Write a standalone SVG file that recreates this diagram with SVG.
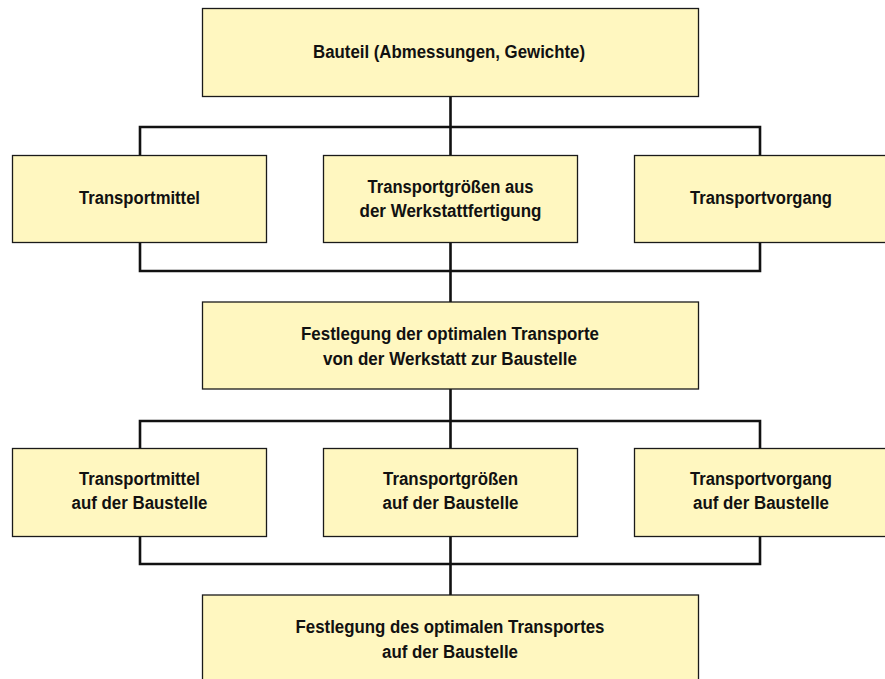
<svg xmlns="http://www.w3.org/2000/svg" width="885" height="679" viewBox="0 0 885 679">
<style>
.box{fill:#fff7c0;stroke:#1a1a1a;stroke-width:1.3}
.sh{fill:none;stroke:#8a8a80;stroke-width:1.5}
.lbl{font-family:"Liberation Sans",Arial,sans-serif;font-weight:bold;font-size:18px;fill:#111;text-anchor:middle}
.con{fill:none;stroke:#111;stroke-width:2.6;stroke-linejoin:miter}
</style>
<rect width="885" height="679" fill="#ffffff"/>
<g id="connectors">
<path class="con" d="M450.5 96 V127 M140 155 V127 H760 V155 M450.5 127 V155"/>
<path class="con" d="M140 242 V271 H760 V242 M450.5 242 V302"/>
<path class="con" d="M450.5 389 V421 M140 448 V421 H760 V448 M450.5 421 V448"/>
<path class="con" d="M140 537 V564 H760 V537 M450.5 537 V595"/>
</g>
<g id="n-bauteil">
<rect class="box" x="202.5" y="8.5" width="496" height="88"/>
<text class="lbl" x="449" y="58" textLength="272" lengthAdjust="spacingAndGlyphs">Bauteil (Abmessungen, Gewichte)</text>
</g>
<g id="n-transportmittel">
<rect class="box" x="12.5" y="155.5" width="254" height="87"/>
<text class="lbl" x="139.5" y="204" textLength="121" lengthAdjust="spacingAndGlyphs">Transportmittel</text>
</g>
<g id="n-transportgroessen-werkstatt">
<rect class="box" x="323.5" y="155.5" width="254" height="87"/>
<text class="lbl" x="450.5" y="192.5" textLength="166" lengthAdjust="spacingAndGlyphs">Transportgrößen aus</text>
<text class="lbl" x="450.5" y="217" textLength="182" lengthAdjust="spacingAndGlyphs">der Werkstattfertigung</text>
</g>
<g id="n-transportvorgang">
<rect class="box" x="634.5" y="155.5" width="254" height="87"/>
<text class="lbl" x="761" y="204" textLength="142" lengthAdjust="spacingAndGlyphs">Transportvorgang</text>
</g>
<g id="n-festlegung-werkstatt">
<rect class="box" x="202.5" y="302" width="496" height="87"/>
<text class="lbl" x="450" y="339.5" textLength="298" lengthAdjust="spacingAndGlyphs">Festlegung der optimalen Transporte</text>
<text class="lbl" x="450" y="364.5" textLength="254" lengthAdjust="spacingAndGlyphs">von der Werkstatt zur Baustelle</text>
</g>
<g id="n-transportmittel-baustelle">
<rect class="box" x="12.5" y="448.5" width="254" height="88"/>
<text class="lbl" x="139.5" y="484.5" textLength="121" lengthAdjust="spacingAndGlyphs">Transportmittel</text>
<text class="lbl" x="139.5" y="509" textLength="136" lengthAdjust="spacingAndGlyphs">auf der Baustelle</text>
</g>
<g id="n-transportgroessen-baustelle">
<rect class="box" x="323.5" y="448.5" width="254" height="88"/>
<text class="lbl" x="450.5" y="484.5" textLength="135" lengthAdjust="spacingAndGlyphs">Transportgrößen</text>
<text class="lbl" x="450.5" y="509" textLength="136" lengthAdjust="spacingAndGlyphs">auf der Baustelle</text>
</g>
<g id="n-transportvorgang-baustelle">
<rect class="box" x="634.5" y="448.5" width="254" height="88"/>
<text class="lbl" x="761" y="484.5" textLength="142" lengthAdjust="spacingAndGlyphs">Transportvorgang</text>
<text class="lbl" x="761" y="509" textLength="136" lengthAdjust="spacingAndGlyphs">auf der Baustelle</text>
</g>
<g id="n-festlegung-baustelle">
<rect class="box" x="202.5" y="595" width="496" height="100"/>
<text class="lbl" x="450" y="632.5" textLength="309" lengthAdjust="spacingAndGlyphs">Festlegung des optimalen Transportes</text>
<text class="lbl" x="450" y="657.5" textLength="136" lengthAdjust="spacingAndGlyphs">auf der Baustelle</text>
</g>
</svg>
